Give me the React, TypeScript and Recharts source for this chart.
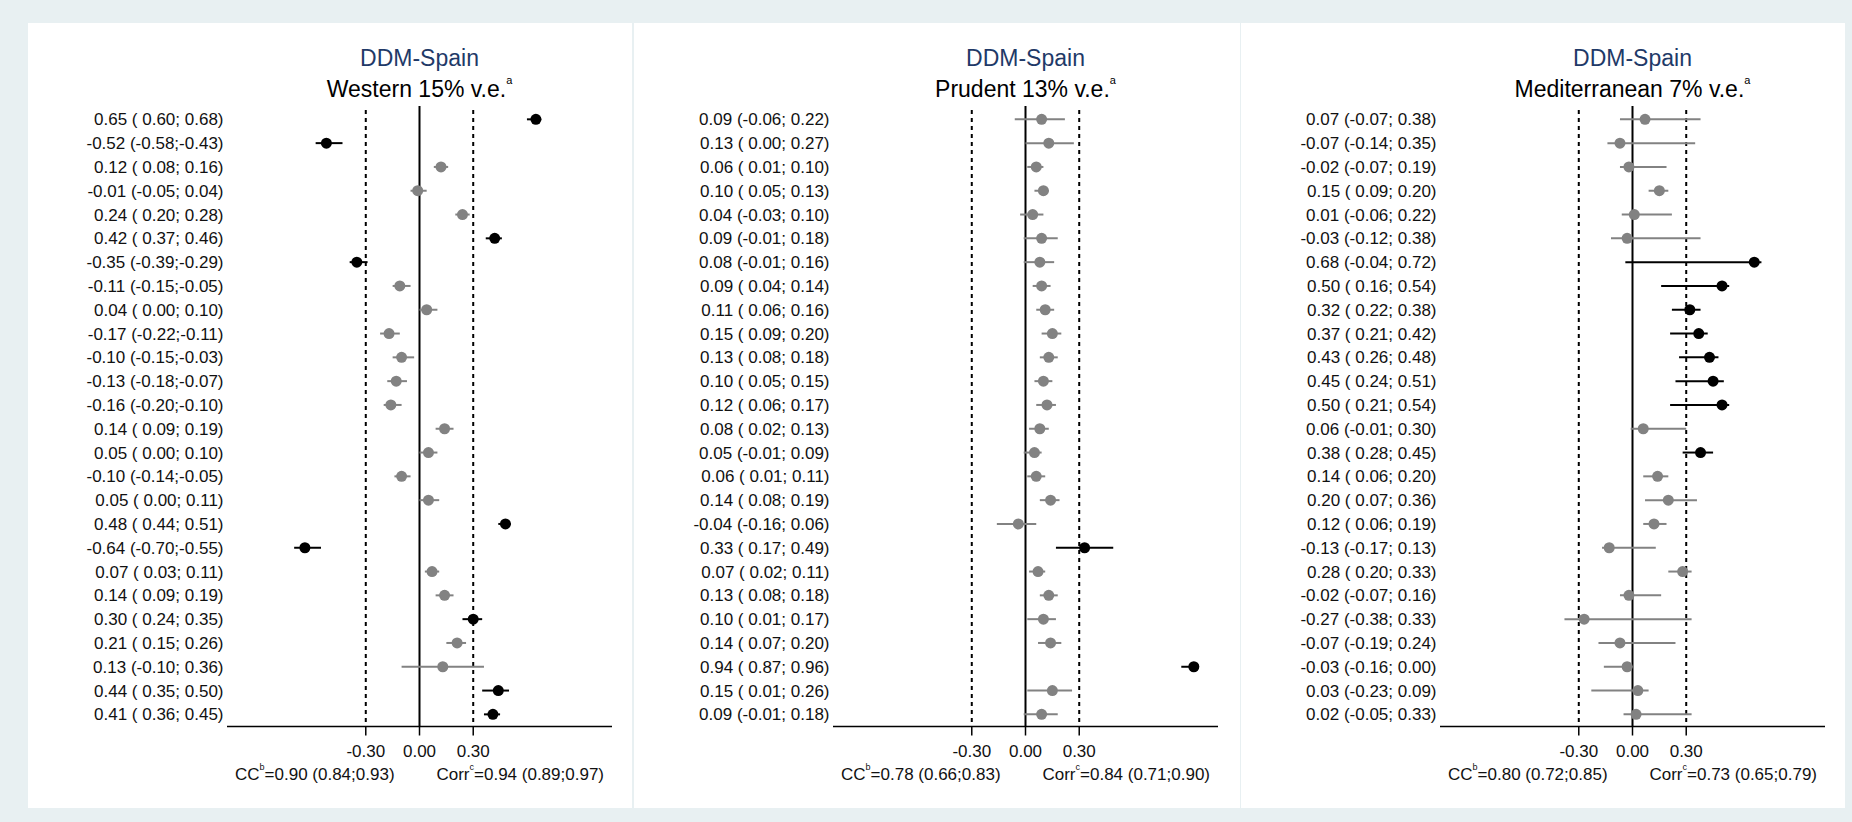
import React from 'react';
import { ComposedChart, Scatter, ErrorBar, XAxis, YAxis, ReferenceLine } from 'recharts';

// estimates and 95% limits, one row per food group (top to bottom)
const westernEst = [0.65, -0.52, 0.12, -0.01, 0.24, 0.42, -0.35, -0.11, 0.04, -0.17, -0.10, -0.13, -0.16, 0.14, 0.05, -0.10, 0.05, 0.48, -0.64, 0.07, 0.14, 0.30, 0.21, 0.13, 0.44, 0.41];
const westernLow = [0.60, -0.58, 0.08, -0.05, 0.20, 0.37, -0.39, -0.15, 0.00, -0.22, -0.15, -0.18, -0.20, 0.09, 0.00, -0.14, 0.00, 0.44, -0.70, 0.03, 0.09, 0.24, 0.15, -0.10, 0.35, 0.36];
const westernHigh = [0.68, -0.43, 0.16, 0.04, 0.28, 0.46, -0.29, -0.05, 0.10, -0.11, -0.03, -0.07, -0.10, 0.19, 0.10, -0.05, 0.11, 0.51, -0.55, 0.11, 0.19, 0.35, 0.26, 0.36, 0.50, 0.45];

const prudentEst = [0.09, 0.13, 0.06, 0.10, 0.04, 0.09, 0.08, 0.09, 0.11, 0.15, 0.13, 0.10, 0.12, 0.08, 0.05, 0.06, 0.14, -0.04, 0.33, 0.07, 0.13, 0.10, 0.14, 0.94, 0.15, 0.09];
const prudentLow = [-0.06, 0.00, 0.01, 0.05, -0.03, -0.01, -0.01, 0.04, 0.06, 0.09, 0.08, 0.05, 0.06, 0.02, -0.01, 0.01, 0.08, -0.16, 0.17, 0.02, 0.08, 0.01, 0.07, 0.87, 0.01, -0.01];
const prudentHigh = [0.22, 0.27, 0.10, 0.13, 0.10, 0.18, 0.16, 0.14, 0.16, 0.20, 0.18, 0.15, 0.17, 0.13, 0.09, 0.11, 0.19, 0.06, 0.49, 0.11, 0.18, 0.17, 0.20, 0.96, 0.26, 0.18];

const medEst = [0.07, -0.07, -0.02, 0.15, 0.01, -0.03, 0.68, 0.50, 0.32, 0.37, 0.43, 0.45, 0.50, 0.06, 0.38, 0.14, 0.20, 0.12, -0.13, 0.28, -0.02, -0.27, -0.07, -0.03, 0.03, 0.02];
const medLow = [-0.07, -0.14, -0.07, 0.09, -0.06, -0.12, -0.04, 0.16, 0.22, 0.21, 0.26, 0.24, 0.21, -0.01, 0.28, 0.06, 0.07, 0.06, -0.17, 0.20, -0.07, -0.38, -0.19, -0.16, -0.23, -0.05];
const medHigh = [0.38, 0.35, 0.19, 0.20, 0.22, 0.38, 0.72, 0.54, 0.38, 0.42, 0.48, 0.51, 0.54, 0.30, 0.45, 0.20, 0.36, 0.19, 0.13, 0.33, 0.16, 0.33, 0.24, 0.00, 0.09, 0.33];

const patternNames = ['Western 15% v.e.', 'Prudent 13% v.e.', 'Mediterranean 7% v.e.'];
const ccLabels = ['0.90 (0.84;0.93)', '0.78 (0.66;0.83)', '0.80 (0.72;0.85)'];
const corrLabels = ['0.94 (0.89;0.97)', '0.84 (0.71;0.90)', '0.73 (0.65;0.79)'];
const xTicks = [-0.3, 0, 0.3];

const FONT = '"Liberation Sans", Arial, Helvetica, sans-serif';
const GREY = '#828282';
const PANEL_TOP = 23;
const PANEL_H = 785;
const ZERO_X = 391.5; // zero line inside a panel
const Y_AXIS_W = 199;
const PLOT_W = 385;

const fmtCi = (v: number) => (v < 0 ? v.toFixed(2) : ' ' + v.toFixed(2));
const rowLabel = (e: number, l: number, h: number) => `${e.toFixed(2)} (${fmtCi(l)};${fmtCi(h)})`;

const Dot = (color: string) => (p: any) => <circle cx={p.cx} cy={p.cy} r={5.5} fill={color} />;

type PanelProps = {
  left: number;
  width: number;
  name: string;
  est: number[];
  low: number[];
  high: number[];
  cc: string;
  corr: string;
};

const Panel = ({ left, width, name, est, low, high, cc, corr }: PanelProps) => {
  const data = est.map((e, i) => ({
    row: i + 1,
    est: e,
    err: [e - low[i], high[i] - e],
  }));
  const labels = est.map((e, i) => rowLabel(e, low[i], high[i]));
  const strong = data.filter((d) => Math.abs(d.est) >= 0.3);
  const weak = data.filter((d) => Math.abs(d.est) < 0.3);

  return (
    <div style={{ position: 'absolute', left, top: PANEL_TOP, width, height: PANEL_H, background: '#fff' }}>
      <div style={{ position: 'absolute', left: ZERO_X - 250, width: 500, top: 24, textAlign: 'center', fontSize: 23, lineHeight: '23px', color: '#1f3a68' }}>
        DDM-Spain
      </div>
      <div style={{ position: 'absolute', left: ZERO_X - 250, width: 500, top: 55, textAlign: 'center', fontSize: 23, lineHeight: '23px', color: '#000', whiteSpace: 'nowrap' }}>
        {name}
        <span style={{ fontSize: 11, position: 'relative', top: -13 }}>a</span>
      </div>

      <ComposedChart
        width={width}
        height={PANEL_H}
        margin={{ top: 83, right: width - Y_AXIS_W - PLOT_W, bottom: 41.5, left: 0 }}
      >
        <XAxis
          type="number"
          dataKey="est"
          domain={[-1.075, 1.075]}
          allowDataOverflow
          ticks={xTicks}
          interval={0}
          tickFormatter={(v: number) => v.toFixed(2)}
          height={40}
          tickSize={9}
          tickMargin={9}
          axisLine={{ stroke: '#000', strokeWidth: 1.5 }}
          tickLine={{ stroke: '#000', strokeWidth: 1.5 }}
          tick={{ fill: '#111', fontSize: 17 }}
        />
        <YAxis
          type="number"
          dataKey="row"
          reversed
          domain={[0.44, 26.51]}
          allowDataOverflow
          ticks={data.map((d) => d.row)}
          interval={0}
          tickFormatter={(v: number) => labels[v - 1]}
          width={Y_AXIS_W}
          tickSize={0}
          tickMargin={3.5}
          axisLine={false}
          tickLine={false}
          tick={{ fill: '#111', fontSize: 17 }}
        />
        <ReferenceLine x={0} stroke="#000" strokeWidth={2} />
        <ReferenceLine
          segment={[{ x: -0.3, y: 0.61 }, { x: -0.3, y: 26.51 }]}
          stroke="#000"
          strokeWidth={2}
          strokeDasharray="4 4"
        />
        <ReferenceLine
          segment={[{ x: 0.3, y: 0.61 }, { x: 0.3, y: 26.51 }]}
          stroke="#000"
          strokeWidth={2}
          strokeDasharray="4 4"
        />
        <Scatter data={weak} shape={Dot(GREY)} isAnimationActive={false}>
          <ErrorBar dataKey="err" direction="x" width={0} stroke={GREY} strokeWidth={2} isAnimationActive={false} />
        </Scatter>
        <Scatter data={strong} shape={Dot('#000')} isAnimationActive={false}>
          <ErrorBar dataKey="err" direction="x" width={0} stroke="#000" strokeWidth={2} isAnimationActive={false} />
        </Scatter>
      </ComposedChart>

      <div style={{ position: 'absolute', left: ZERO_X - 184.5, top: 743, fontSize: 17, lineHeight: '17px', color: '#111', whiteSpace: 'nowrap' }}>
        CC<span style={{ fontSize: 9, position: 'relative', top: -10 }}>b</span>={cc}
      </div>
      <div style={{ position: 'absolute', left: ZERO_X + 184.5 - 300, width: 300, top: 743, textAlign: 'right', fontSize: 17, lineHeight: '17px', color: '#111', whiteSpace: 'nowrap' }}>
        Corr<span style={{ fontSize: 9, position: 'relative', top: -10 }}>c</span>={corr}
      </div>
    </div>
  );
};

export default function App() {
  return (
    <div style={{ position: 'absolute', left: 0, top: 0, width: 1852, height: 822, background: '#e8f0f2', fontFamily: FONT, overflow: 'hidden' }}>
      <Panel left={28} width={604} name={patternNames[0]} est={westernEst} low={westernLow} high={westernHigh} cc={ccLabels[0]} corr={corrLabels[0]} />
      <Panel left={634} width={606} name={patternNames[1]} est={prudentEst} low={prudentLow} high={prudentHigh} cc={ccLabels[1]} corr={corrLabels[1]} />
      <Panel left={1241} width={604} name={patternNames[2]} est={medEst} low={medLow} high={medHigh} cc={ccLabels[2]} corr={corrLabels[2]} />
    </div>
  );
}
